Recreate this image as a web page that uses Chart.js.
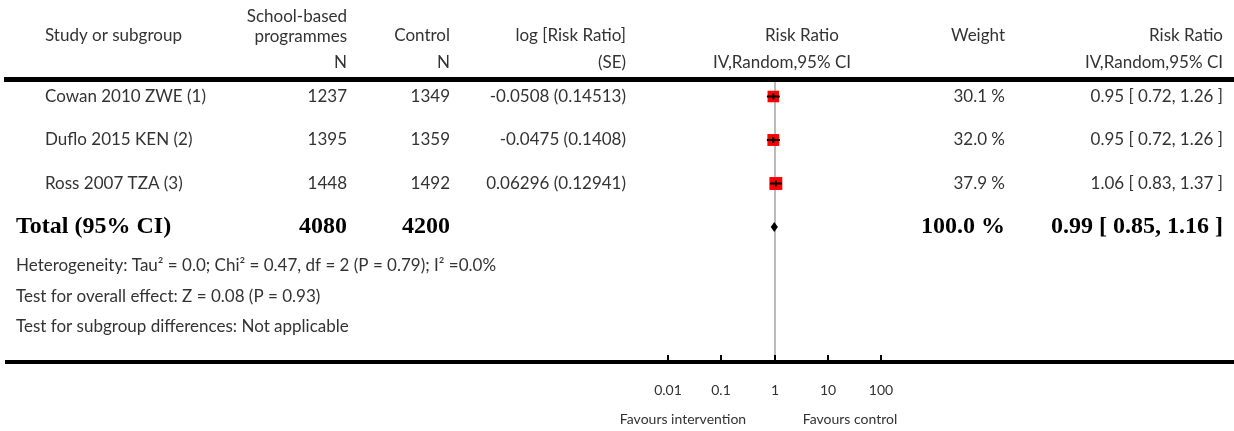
<!DOCTYPE html>
<html>
<head>
<meta charset="utf-8">
<title>Forest plot - School-based programmes vs Control</title>
<script src="https://cdn.jsdelivr.net/npm/chart.js@4.4.0/dist/chart.umd.min.js"></script>
<style>
  * { margin: 0; padding: 0; box-sizing: border-box; }
  body { background: #fff; }
  .wrap { width: 1234px; height: 431px; position: relative; }
</style>
</head>
<body>
<div class="wrap"><canvas id="forest"></canvas></div>
<script>
// study rows
const studies = ['Cowan 2010 ZWE (1)', 'Duflo 2015 KEN (2)', 'Ross 2007 TZA (3)'];
const nSchool = [1237, 1395, 1448];
const nControl = [1349, 1359, 1492];
const logRR = [-0.0508, -0.0475, 0.06296];
const logSE = [0.14513, 0.1408, 0.12941];
const weights = [30.1, 32.0, 37.9];
const rr = [0.95, 0.95, 1.06];
const rrLow = [0.72, 0.72, 0.83];
const rrHigh = [1.26, 1.26, 1.37];

// pooled
const totalSchool = 4080;
const totalControl = 4200;
const totalWeight = 100.0;
const totalRR = 0.99;
const totalLow = 0.85;
const totalHigh = 1.16;

// axis
const tickValues = [0.01, 0.1, 1, 10, 100];
const tickLabels = ['0.01', '0.1', '1', '10', '100'];

const footnotes = [
  'Heterogeneity: Tau² = 0.0; Chi² = 0.47, df = 2 (P = 0.79); I² =0.0%',
  'Test for overall effect: Z = 0.08 (P = 0.93)',
  'Test for subgroup differences: Not applicable'
];

const REG = '17px Lato, "Open Sans", sans-serif';
const SMALL = '14px Lato, "Open Sans", sans-serif';
const BOLD = 'bold 24px "Liberation Serif", "DejaVu Serif", serif';
const TXT = '#333';
const totalRow = studies.length;

// one little line dataset per study for its CI
const ciSets = studies.map((s, i) => ({
  data: [{ x: rrLow[i], y: i }, { x: rrHigh[i], y: i }],
  showLine: true,
  borderColor: '#000',
  borderWidth: 2,
  pointRadius: 0
}));

const forestText = {
  id: 'forestText',
  beforeDatasetsDraw(chart) {
    const { ctx, chartArea, scales: { x } } = chart;
    ctx.save();
    ctx.strokeStyle = '#bbb';
    ctx.lineWidth = 2;
    const px = Math.round(x.getPixelForValue(1));
    ctx.beginPath();
    ctx.moveTo(px, chartArea.top);
    ctx.lineTo(px, chartArea.bottom);
    ctx.stroke();
    ctx.restore();
  },
  afterDraw(chart) {
    const { ctx, chartArea, scales: { x, y } } = chart;
    ctx.save();
    ctx.textBaseline = 'middle';

    const put = (t, px, py, align, font, color) => {
      ctx.font = font || REG;
      ctx.fillStyle = color || TXT;
      ctx.textAlign = align || 'left';
      ctx.fillText(t, px, py);
    };

    // header
    put('Study or subgroup', 45, 36);
    put('School-based', 347, 17, 'right');
    put('programmes', 347, 37, 'right');
    put('N', 347, 63, 'right');
    put('Control', 450, 36, 'right');
    put('N', 450, 63, 'right');
    put('log [Risk Ratio]', 626, 36, 'right');
    put('(SE)', 626, 63, 'right');
    put('Risk Ratio', 802, 36, 'center');
    put('IV,Random,95% CI', 782, 63, 'center');
    put('Weight', 1005, 36, 'right');
    put('Risk Ratio', 1223, 36, 'right');
    put('IV,Random,95% CI', 1223, 63, 'right');

    // rules
    ctx.fillStyle = '#000';
    ctx.fillRect(4, 77, 1230, 5);
    ctx.fillRect(5, chartArea.bottom - 2, 1229, 4);

    // study rows
    studies.forEach((s, i) => {
      const py = y.getPixelForValue(i);
      put(s, 45, py);
      put(String(nSchool[i]), 347, py, 'right');
      put(String(nControl[i]), 450, py, 'right');
      put(logRR[i] + ' (' + logSE[i] + ')', 626, py, 'right');
      put(weights[i].toFixed(1) + ' %', 1005, py, 'right');
      put(rr[i].toFixed(2) + ' [ ' + rrLow[i].toFixed(2) + ', ' + rrHigh[i].toFixed(2) + ' ]', 1223, py, 'right');
    });

    // total row
    const ty = y.getPixelForValue(totalRow);
    put('Total (95% CI)', 16, ty, 'left', BOLD, '#000');
    put(String(totalSchool), 347, ty, 'right', BOLD, '#000');
    put(String(totalControl), 450, ty, 'right', BOLD, '#000');
    put(totalWeight.toFixed(1) + ' %', 1005, ty, 'right', BOLD, '#000');
    put(totalRR.toFixed(2) + ' [ ' + totalLow.toFixed(2) + ', ' + totalHigh.toFixed(2) + ' ]', 1223, ty, 'right', BOLD, '#000');

    // diamond
    const dl = x.getPixelForValue(totalLow);
    const dm = x.getPixelForValue(totalRR);
    const dr = x.getPixelForValue(totalHigh);
    ctx.fillStyle = '#000';
    ctx.beginPath();
    ctx.moveTo(dl, ty);
    ctx.lineTo(dm, ty - 5);
    ctx.lineTo(dr, ty);
    ctx.lineTo(dm, ty + 5);
    ctx.closePath();
    ctx.fill();

    // footnotes
    footnotes.forEach((f, i) => put(f, 16, 266 + i * 30.5));

    // axis ticks and labels
    tickValues.forEach((v, i) => {
      const px = Math.round(x.getPixelForValue(v));
      ctx.fillStyle = '#000';
      ctx.fillRect(px - 1, chartArea.bottom - 7, 2, 6);
      put(tickLabels[i], px, 390, 'center', SMALL);
    });
    put('Favours intervention', 683, 419, 'center', SMALL);
    put('Favours control', 850, 419, 'center', SMALL);
    ctx.restore();
  }
};

new Chart(document.getElementById('forest'), {
  type: 'scatter',
  data: {
    datasets: [
      {
        // centre marks
        data: rr.map((v, i) => ({ x: v, y: i })),
        pointStyle: 'line',
        rotation: 90,
        pointRadius: 3,
        borderColor: '#000',
        borderWidth: 2
      },
      ...ciSets,
      {
        // weighted boxes
        data: rr.map((v, i) => ({ x: v, y: i })),
        pointStyle: 'rect',
        pointRadius: weights.map(w => 2.1 * Math.sqrt(w) / Math.SQRT2),
        backgroundColor: '#ff0000',
        borderWidth: 0
      }
    ]
  },
  options: {
    responsive: true,
    maintainAspectRatio: false,
    animation: false,
    events: [],
    layout: { padding: { left: 668, right: 353, top: 82, bottom: 69 } },
    plugins: { legend: { display: false }, tooltip: { enabled: false } },
    scales: {
      x: { type: 'logarithmic', min: 0.01, max: 100, display: false },
      y: { type: 'linear', reverse: true, min: -14.5 / 43.5, max: 265.5 / 43.5, display: false }
    }
  },
  plugins: [forestText]
});
</script>
</body>
</html>
